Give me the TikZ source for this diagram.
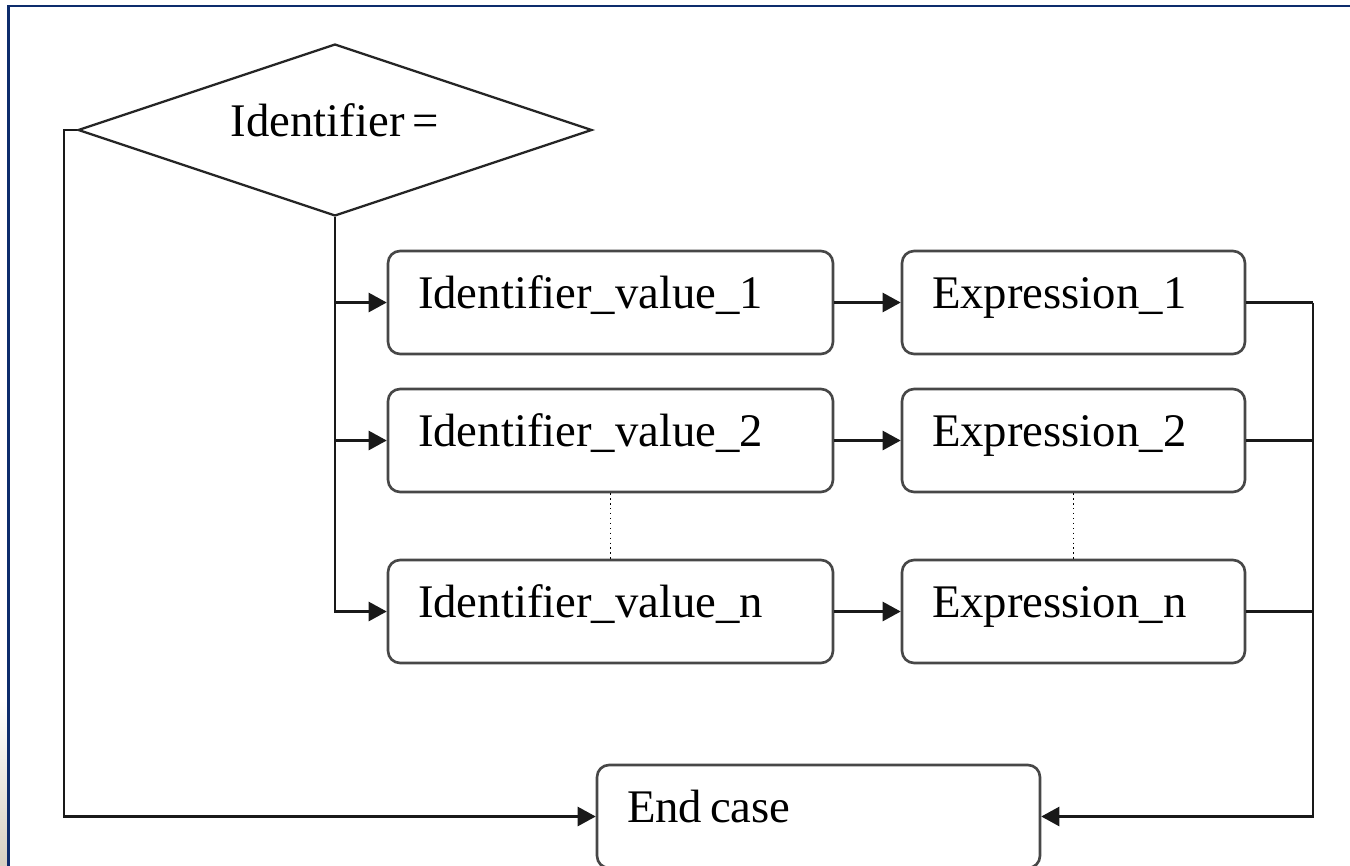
\documentclass[tikz,border=0pt]{standalone}
\usepackage{fontspec}
\setmainfont{Liberation Serif}
\usetikzlibrary{shapes.geometric,arrows.meta}

\definecolor{framenavy}{HTML}{0D2C6C}
\definecolor{stripbeige}{HTML}{D6D0C2}

\DeclareRobustCommand\chartfont{\fontsize{26.6}{32}\selectfont\spaceskip=0.17em\relax}
\DeclareRobustCommand\tightspace{\spaceskip=0.17em\relax}

\begin{document}
\begin{tikzpicture}[
    x=0.02cm, y=-0.02cm,
    txt/.style={font=\chartfont, text height=0.72cm, text depth=0.48cm,
        execute at begin node=\tightspace},
    casebox/.style={txt, draw=black!72, line width=1.5pt, rounded corners=0.24cm, align=left,
        inner xsep=0.6cm, inner ysep=0pt, minimum height=2.06cm},
    test/.style={txt, diamond, draw=black!85, line width=1.3pt, aspect=3, inner sep=0pt,
        minimum width=10.28cm, minimum height=3.44cm},
    link/.style={draw=black!90, line width=1.4pt},
    arr/.style={link, -{Triangle[length=0.36cm, width=0.38cm]}},
]

\useasboundingbox (0,0) rectangle (1350,866);

% window frame
\shade[top color=white, bottom color=stripbeige] (0,700) rectangle (7,866);
\draw[framenavy, line width=1.7pt] (8.5,866) -- (8.5,6) -- (1350,6);

\node[test] (dec) at (335,130) {Identifier =\hspace{0.28cm}};

\foreach \name/\y in {1/302.5, 2/440.5, n/611.5}{
    \node[casebox, text width=7.7cm] (iv\name) at (610.5,\y) {Identifier\_value\_\name};
    \node[casebox, text width=5.66cm] (ex\name) at (1073.5,\y) {Expression\_\name};
    \draw[arr] (iv\name) -- (ex\name);
}

\node[casebox, text width=7.66cm] (endc) at (818.5,816.5) {End case};

\coordinate (lft) at (64,130);
\coordinate (rgt) at (1313,302.5);

\draw[arr] (dec.west) -- (lft) |- (endc.west);

\foreach \name in {1,2,n}{
    \draw[arr] (dec.south) |- (iv\name.west);
    \draw[link] (ex\name.east) -- (ex\name.east -| rgt);
}
\draw[arr] (ex1.east -| rgt) |- (endc.east);

\draw[dotted, line width=0.8pt] (iv2.south) -- (ivn.north);
\draw[dotted, line width=0.8pt] (ex2.south) -- (exn.north);

\end{tikzpicture}
\end{document}
